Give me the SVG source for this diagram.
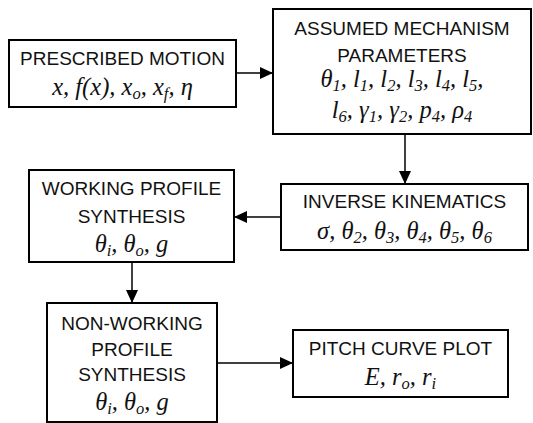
<svg xmlns="http://www.w3.org/2000/svg" width="533" height="423" viewBox="0 0 533 423">
<style>
.box{fill:#fff;stroke:#000;stroke-width:2}
.t{font-family:"Liberation Sans",Arial,sans-serif;font-size:19px;text-anchor:middle;fill:#111}
.m{font-family:"Liberation Serif","Times New Roman",serif;font-style:italic;font-size:24.5px;text-anchor:middle;fill:#111}
.s{font-size:16.5px}
.c{stroke:#000;stroke-width:1.5;fill:none}
</style>
<defs>
<marker id="ah" markerUnits="userSpaceOnUse" markerWidth="14" markerHeight="12" refX="13" refY="6" orient="auto">
<path d="M0,0 L13,6 L0,12 Z" fill="#000"/>
</marker>
</defs>
<g id="connectors">
<line class="c" x1="236" y1="73" x2="273" y2="73" marker-end="url(#ah)"/>
<line class="c" x1="405" y1="134" x2="405" y2="184" marker-end="url(#ah)"/>
<line class="c" x1="281" y1="217" x2="234" y2="217" marker-end="url(#ah)"/>
<line class="c" x1="132" y1="262" x2="132" y2="303" marker-end="url(#ah)"/>
<line class="c" x1="217" y1="363" x2="293" y2="363" marker-end="url(#ah)"/>
</g>
<g id="prescribed">
<rect class="box" x="9" y="40" width="227" height="67"/>
<text class="t" x="122.5" y="65">PRESCRIBED MOTION</text>
<text class="m" x="122.5" y="95">x, f(x), x<tspan class="s" dy="3.5">o</tspan><tspan dy="-3.5">, x</tspan><tspan class="s" dy="3.5">f</tspan><tspan dy="-3.5">, η</tspan></text>
</g>
<g id="assumed">
<rect class="box" x="273" y="9" width="258" height="125"/>
<text class="t" x="402" y="35">ASSUMED MECHANISM</text>
<text class="t" x="402" y="62">PARAMETERS</text>
<text class="m" x="402" y="87">θ<tspan class="s" dy="3.5">1</tspan><tspan dy="-3.5">, l</tspan><tspan class="s" dy="3.5">1</tspan><tspan dy="-3.5">, l</tspan><tspan class="s" dy="3.5">2</tspan><tspan dy="-3.5">, l</tspan><tspan class="s" dy="3.5">3</tspan><tspan dy="-3.5">, l</tspan><tspan class="s" dy="3.5">4</tspan><tspan dy="-3.5">, l</tspan><tspan class="s" dy="3.5">5</tspan><tspan dy="-3.5">,</tspan></text>
<text class="m" x="402" y="118">l<tspan class="s" dy="3.5">6</tspan><tspan dy="-3.5">, γ</tspan><tspan class="s" dy="3.5">1</tspan><tspan dy="-3.5">, γ</tspan><tspan class="s" dy="3.5">2</tspan><tspan dy="-3.5">, p</tspan><tspan class="s" dy="3.5">4</tspan><tspan dy="-3.5">, ρ</tspan><tspan class="s" dy="3.5">4</tspan></text>
</g>
<g id="inverse">
<rect class="box" x="281" y="184" width="247" height="66"/>
<text class="t" x="404.5" y="208">INVERSE KINEMATICS</text>
<text class="m" x="404.5" y="239">σ, θ<tspan class="s" dy="3.5">2</tspan><tspan dy="-3.5">, θ</tspan><tspan class="s" dy="3.5">3</tspan><tspan dy="-3.5">, θ</tspan><tspan class="s" dy="3.5">4</tspan><tspan dy="-3.5">, θ</tspan><tspan class="s" dy="3.5">5</tspan><tspan dy="-3.5">, θ</tspan><tspan class="s" dy="3.5">6</tspan></text>
</g>
<g id="working">
<rect class="box" x="29" y="170" width="205" height="92"/>
<text class="t" x="131.5" y="195">WORKING PROFILE</text>
<text class="t" x="131.5" y="223">SYNTHESIS</text>
<text class="m" x="131.5" y="252">θ<tspan class="s" dy="3.5">i</tspan><tspan dy="-3.5">, θ</tspan><tspan class="s" dy="3.5">o</tspan><tspan dy="-3.5">, g</tspan></text>
</g>
<g id="nonworking">
<rect class="box" x="47" y="303" width="170" height="119"/>
<text class="t" x="132" y="330">NON-WORKING</text>
<text class="t" x="132" y="356">PROFILE</text>
<text class="t" x="132" y="381">SYNTHESIS</text>
<text class="m" x="132" y="410">θ<tspan class="s" dy="3.5">i</tspan><tspan dy="-3.5">, θ</tspan><tspan class="s" dy="3.5">o</tspan><tspan dy="-3.5">, g</tspan></text>
</g>
<g id="pitch">
<rect class="box" x="293" y="330" width="215" height="67"/>
<text class="t" x="400.5" y="355">PITCH CURVE PLOT</text>
<text class="m" x="400.5" y="385">E, r<tspan class="s" dy="3.5">o</tspan><tspan dy="-3.5">, r</tspan><tspan class="s" dy="3.5">i</tspan></text>
</g>
</svg>
